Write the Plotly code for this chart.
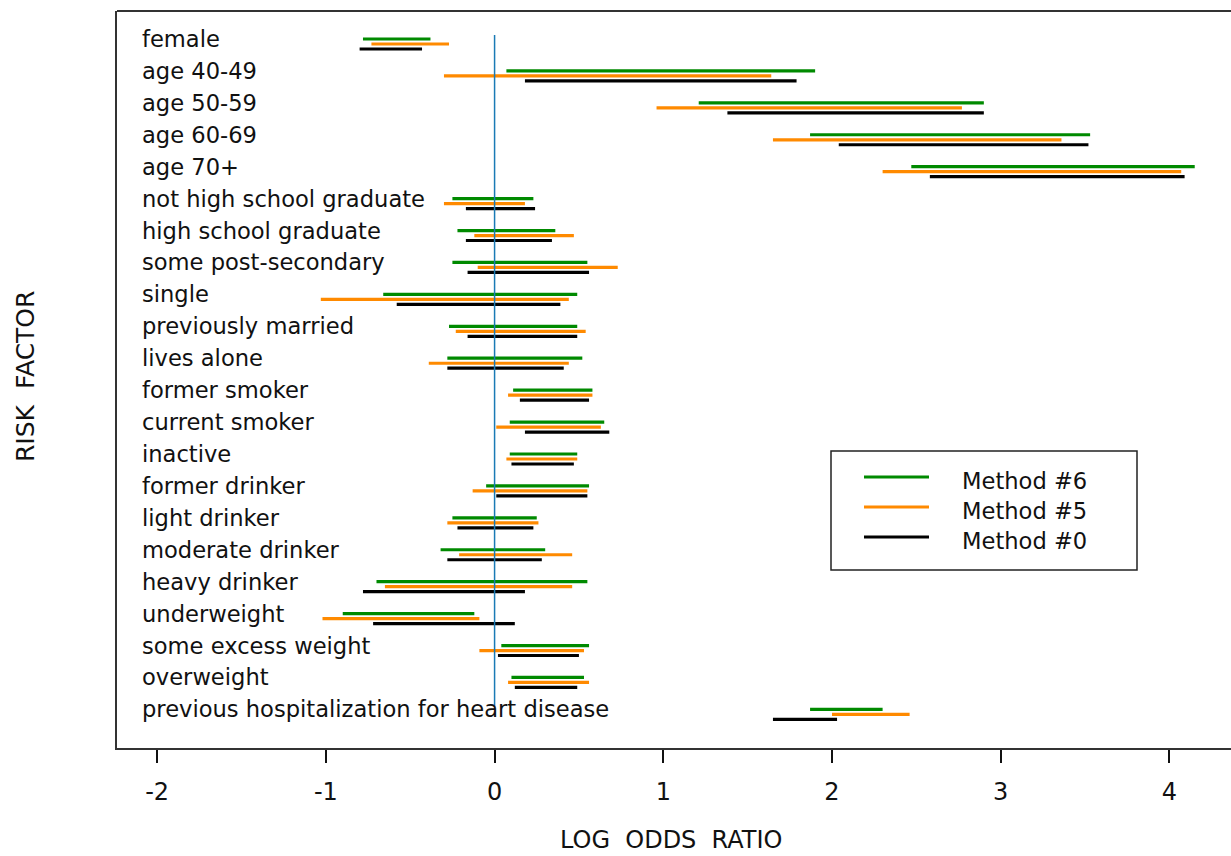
import plotly.graph_objects as go

factors = ["female", "age 40-49", "age 50-59", "age 60-69", "age 70+",
           "not high school graduate", "high school graduate", "some post-secondary",
           "single", "previously married", "lives alone", "former smoker",
           "current smoker", "inactive", "former drinker", "light drinker",
           "moderate drinker", "heavy drinker", "underweight", "some excess weight",
           "overweight", "previous hospitalization for heart disease"]

m6_lo = [-0.78, 0.07, 1.21, 1.87, 2.47, -0.25, -0.22, -0.25, -0.66, -0.27, -0.28,
         0.11, 0.09, 0.09, -0.05, -0.25, -0.32, -0.70, -0.90, 0.04, 0.10, 1.87]
m6_hi = [-0.38, 1.90, 2.90, 3.53, 4.15, 0.23, 0.36, 0.55, 0.49, 0.49, 0.52,
         0.58, 0.65, 0.49, 0.56, 0.25, 0.30, 0.55, -0.12, 0.56, 0.53, 2.30]
m5_lo = [-0.73, -0.30, 0.96, 1.65, 2.30, -0.30, -0.12, -0.10, -1.03, -0.23, -0.39,
         0.08, 0.01, 0.07, -0.13, -0.28, -0.21, -0.65, -1.02, -0.09, 0.08, 2.00]
m5_hi = [-0.27, 1.64, 2.77, 3.36, 4.07, 0.18, 0.47, 0.73, 0.44, 0.54, 0.44,
         0.58, 0.63, 0.49, 0.55, 0.26, 0.46, 0.46, -0.09, 0.53, 0.56, 2.46]
m0_lo = [-0.80, 0.18, 1.38, 2.04, 2.58, -0.17, -0.17, -0.16, -0.58, -0.16, -0.28,
         0.15, 0.18, 0.10, 0.01, -0.22, -0.28, -0.78, -0.72, 0.02, 0.12, 1.65]
m0_hi = [-0.43, 1.79, 2.90, 3.52, 4.09, 0.24, 0.34, 0.56, 0.39, 0.49, 0.41,
         0.56, 0.68, 0.47, 0.55, 0.23, 0.28, 0.18, 0.12, 0.50, 0.49, 2.03]

tick_vals = [-2, -1, 0, 1, 2, 3, 4]
tick_text = ["-2", "-1", "0", "1", "2", "3", "4"]

methods = ["Method #6", "Method #5", "Method #0"]
colors = ["#008a00", "#ff8a00", "#000000"]
offsets = [0.0, 0.157, 0.313]
series = [(m6_lo, m6_hi), (m5_lo, m5_hi), (m0_lo, m0_hi)]

FONT = "DejaVu Sans"
L, T, B, R = 117, 11, 748, 1231
W, H = R - L, B - T


def px(x):
    return (x - L) / W


def py(y):
    return (B - y) / H


fig = go.Figure()
for name, col, off, (lo, hi) in zip(methods, colors, offsets, series):
    xs, ys = [], []
    for i in range(len(factors)):
        xs += [lo[i], hi[i], None]
        ys += [i + off, i + off, None]
    fig.add_trace(go.Scatter(x=xs, y=ys, mode="lines", name=name,
                             line=dict(color=col, width=3.2), showlegend=False,
                             hoverinfo="skip"))

annotations = []
for i, f in enumerate(factors):
    annotations.append(dict(x=px(140), xref="paper", y=i, yref="y", text=f,
                            showarrow=False, xanchor="left", yanchor="middle",
                            font=dict(family=FONT, size=22.6, color="#111")))

shapes = [
    dict(type="line", xref="paper", yref="paper", x0=0, x1=1, y0=1, y1=1,
         line=dict(color="#333", width=2)),
    dict(type="line", xref="x", yref="y", x0=0, x1=0, y0=-0.125, y1=20.93,
         line=dict(color="#1a7ab5", width=1.5), layer="above"),
    dict(type="rect", xref="paper", yref="paper", x0=px(831), x1=px(1137),
         y0=py(570), y1=py(451), line=dict(color="#222", width=1.5),
         fillcolor="white"),
]
for k, (name, col) in enumerate(zip(methods, colors)):
    yl = 477 + 30 * k
    shapes.append(dict(type="line", xref="paper", yref="paper", x0=px(864),
                       x1=px(929), y0=py(yl), y1=py(yl),
                       line=dict(color=col, width=3)))
    annotations.append(dict(x=px(960), xref="paper", y=py(yl + 4), yref="paper",
                            text=name, showarrow=False, xanchor="left",
                            yanchor="middle",
                            font=dict(family=FONT, size=22.6, color="#111")))

annotations.append(dict(x=px(671), y=py(856), xref="paper", yref="paper",
                        text="LOG  ODDS  RATIO", showarrow=False,
                        xanchor="center", yanchor="bottom",
                        font=dict(family=FONT, size=24, color="#111")))
annotations.append(dict(x=px(25), y=py(376), xref="paper", yref="paper",
                        text="RISK  FACTOR", showarrow=False, textangle=-90,
                        xanchor="center", yanchor="middle",
                        font=dict(family=FONT, size=25, color="#111")))

fig.update_layout(
    width=1231, height=856, autosize=False,
    margin=dict(l=L, r=0, t=T, b=856 - B, pad=0),
    paper_bgcolor="white", plot_bgcolor="white",
    xaxis=dict(range=[-2.238, 4.365], tickvals=tick_vals, ticktext=tick_text,
               ticks="outside", ticklen=13, tickwidth=1.5, tickcolor="#111",
               ticklabelstandoff=8,
               showline=True, linecolor="#333", linewidth=2, showgrid=False,
               zeroline=False,
               tickfont=dict(family=FONT, size=24, color="#111")),
    yaxis=dict(range=[22.21, -0.877], showline=True, linecolor="#333",
               linewidth=2, showgrid=False, zeroline=False,
               showticklabels=False, ticks=""),
    shapes=shapes, annotations=annotations, showlegend=False,
)

fig.write_html("out.html", config={"displayModeBar": False},
               post_script="document.body.style.margin='0';"
                           "document.body.style.overflow='hidden';")
